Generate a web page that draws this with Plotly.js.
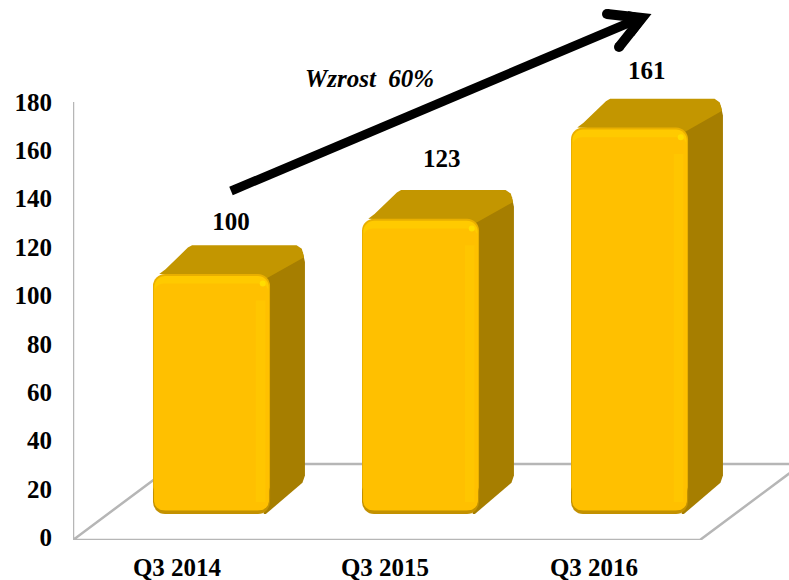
<!DOCTYPE html>
<html>
<head>
<meta charset="utf-8">
<script src="https://cdn.plot.ly/plotly-3.0.1.min.js"></script>
<style>html,body{margin:0;padding:0;background:#fff}#c{width:789px;height:580px}</style>
</head>
<body>
<div id="c"></div>
<script>
const categories = ['Q3 2014', 'Q3 2015', 'Q3 2016'];
const values = [100, 123, 161];
const barIndex = [0, 1, 2];
const valueLabels = ['100', '123', '161'];
const yTicks = [0, 20, 40, 60, 80, 100, 120, 140, 160, 180];
const labelX = [0.093, 1.102, 2.082];
const labelLift = [21, 24, 23];
const tickX = [-0.165, 0.83, 1.83];

const W = 0.56, DX = 0.167, DY = 12, L = W / 2;
const serif = '"Liberation Serif", "Times New Roman", serif';
const xRange = [-0.6627, 2.763];
const yRange = [-1.03, 222.1];
const y2Range = [-10.83, 214.17];

function poly(name, pts, color, axis) {
  return { type: 'scatter', mode: 'lines', x: pts.map(p => p[0]), y: pts.map(p => p[1]), yaxis: axis,
           fill: 'toself', fillcolor: color, line: { width: 0, color: color }, hoverinfo: 'skip', name: name };
}

const traces = [];
// wall and floor outline
traces.push({ type: 'scatter', mode: 'lines', x: [xRange[0], xRange[0], 2.337, 2.825, -0.175, xRange[0]],
  y: [180, -1.03, -1.03, 30.4, 30.4, -1.03], yaxis: 'y', line: { color: '#B6B6B6', width: 2.5 }, hoverinfo: 'skip' });

// depth faces of each column
barIndex.forEach((i, k) => {
  const v = values[k], a = i - L, b = i + L;
  traces.push(poly('side', [[b - 0.03, v - 2], [b + DX - 0.03, v + DY - 1], [b + DX - 0.01, v + DY - 3],
    [b + DX, v + DY - 7], [b + DX, 16], [b + DX - 0.012, 13], [b - 0.02, 0], [b - 0.03, 0]], '#A67E00', 'y2'));
  traces.push(poly('top', [[a + 0.03, v], [a + 0.06, v + 2], [a + DX, v + DY - 1], [a + DX + 0.02, v + DY],
    [b + DX - 0.04, v + DY], [b + DX - 0.015, v + DY - 1.5], [b + DX - 0.004, v + DY - 5],
    [b - 0.02, v - 2]], '#C39600', 'y2'));
});

// front faces
const bar = (x, y, base, width, color, radius) => ({ type: 'bar', x: x, y: y, base: base, width: width,
  yaxis: 'y3', marker: { color: color, cornerradius: radius, line: { width: 0 } }, hoverinfo: 'skip' });
const foot = 1.6;
traces.push(bar(barIndex, values.map(v => v - foot), values.map(() => foot), W, '#E9AF00', 12));
traces.push(bar(barIndex, values.map(() => 14), values.map(() => 0), W, '#C39100', 12));
traces.push(bar(barIndex, values.map(v => v - 0.8 - foot), values.map(() => foot), W - 0.012, '#FFCA00', 11));
traces.push(bar(barIndex, values.map(v => v - 4 - foot), values.map(() => foot), W - 0.012, '#FFC000', 9));
traces.push(bar(barIndex.map(i => i + L - 0.045), values.map(v => v - 16), values.map(() => 5), 0.045, '#FFC600', 0));

// corner glints
traces.push({ type: 'scatter', mode: 'markers', x: barIndex.map(i => i + L - 0.035), y: values.map(v => v - 4), yaxis: 'y3',
  marker: { size: 6, color: '#FFE000', opacity: 0.85, line: { width: 0 } }, hoverinfo: 'skip' });

// value labels
traces.push({ type: 'scatter', mode: 'text', x: labelX, y: values.map((v, k) => v + labelLift[k]), yaxis: 'y3',
  text: valueLabels, textposition: 'middle center', cliponaxis: false,
  textfont: { family: serif, size: 25, color: '#000', weight: 700 }, hoverinfo: 'skip' });

// pixel helpers for the trend arrow
const P = { l: 73, r: 789, t: 0, b: 540 };
const px = x => (x - P.l) / (P.r - P.l);
const py = y => (P.b - y) / (P.b - P.t);
const arrowPath = 'M' + px(607) + ',' + py(14) + ' L' + px(642) + ',' + py(18) + ' L' + px(619) + ',' + py(47);
const dot = (x, y, r) => ({ type: 'circle', xref: 'paper', yref: 'paper', x0: px(x - r), x1: px(x + r), y0: py(y + r), y1: py(y - r),
  fillcolor: '#000', line: { width: 0 } });

const layout = {
  width: 789, height: 580, showlegend: false, paper_bgcolor: '#fff', plot_bgcolor: '#fff',
  margin: { l: 73, r: 0, t: 0, b: 40, pad: 0 },
  barmode: 'overlay',
  font: { family: serif, color: '#000' },
  xaxis: { range: xRange, tickmode: 'array', tickvals: tickX, ticktext: categories, showgrid: false, zeroline: false,
    showline: false, ticks: '', ticklabelstandoff: 10, tickfont: { family: serif, size: 25, color: '#000', weight: 700 } },
  yaxis: { range: yRange, tickmode: 'array', tickvals: yTicks, showgrid: false, zeroline: false, showline: false, ticks: '',
    ticklabelstandoff: 20, tickfont: { family: serif, size: 25, color: '#000', weight: 700 } },
  yaxis2: { range: y2Range, overlaying: 'y', visible: false, showgrid: false, zeroline: false },
  yaxis3: { range: y2Range, overlaying: 'y', visible: false, showgrid: false, zeroline: false },
  shapes: [
    { type: 'line', xref: 'paper', yref: 'paper', x0: px(231), y0: py(191), x1: px(638), y1: py(19), line: { color: '#000', width: 9 } },
    { type: 'path', xref: 'paper', yref: 'paper', path: arrowPath, line: { color: '#000', width: 10 }, fillcolor: 'rgba(0,0,0,0)' },
    { type: 'path', xref: 'paper', yref: 'paper', path: 'M' + px(628) + ',' + py(11) + ' L' + px(649) + ',' + py(16) + ' L' + px(634) + ',' + py(36) + ' Z', line: { width: 0 }, fillcolor: '#000' },
    dot(607, 14, 5), dot(619, 47, 5)
  ],
  annotations: [{ xref: 'paper', yref: 'paper', x: px(369), y: py(79), text: 'Wzrost\u00A0\u00A060%', showarrow: false,
    xanchor: 'center', yanchor: 'middle', font: { family: serif, size: 25, color: '#000', style: 'italic', weight: 700 } }]
};
Plotly.newPlot('c', traces, layout, { staticPlot: true, displayModeBar: false });
</script>
</body>
</html>
